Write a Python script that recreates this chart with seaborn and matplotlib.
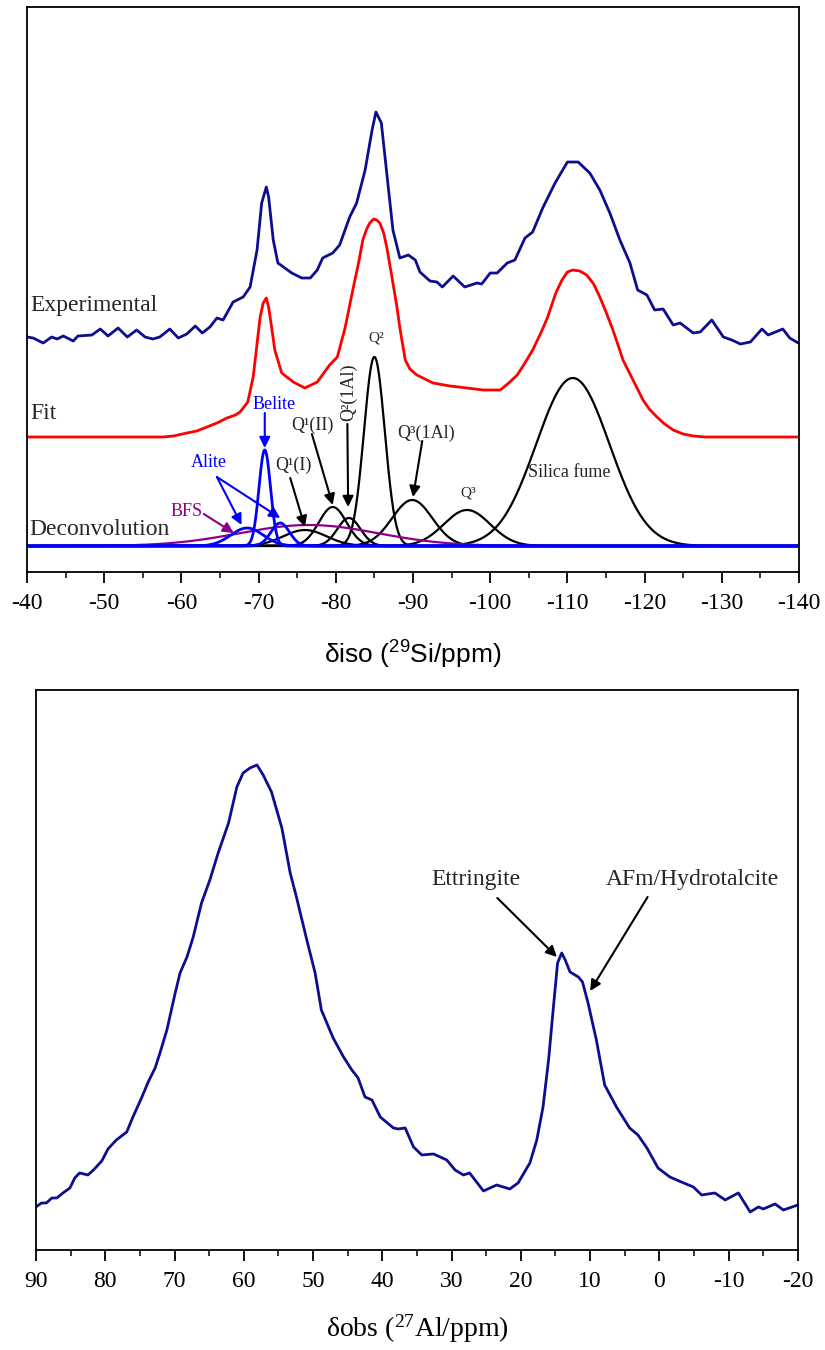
import numpy as np
import matplotlib
matplotlib.use("Agg")
import matplotlib.pyplot as plt
from matplotlib.ticker import MultipleLocator
import seaborn as sns

# ---------------- 29Si MAS NMR: experimental spectrum (offset, a.u.) ----------------
si_exp_ppm = [-40.0, -40.8, -42.1, -43.2, -43.9, -44.7, -46.0, -46.6, -48.4, -49.5,
              -50.5, -51.8, -53.0, -54.2, -55.3, -56.3, -57.2, -58.5, -59.6, -60.7,
              -61.8, -62.7, -63.7, -64.6, -65.4, -66.7, -68.0, -68.9, -69.8, -70.4,
              -71.0, -71.3, -71.9, -72.5, -73.4, -74.3, -75.6, -76.7, -77.6, -78.3,
              -79.6, -80.5, -81.8, -82.7, -83.8, -84.7, -85.2, -85.9, -86.6, -87.4,
              -88.3, -89.4, -90.3, -90.9, -92.2, -93.1, -93.8, -95.2, -96.7, -98.3,
              -98.9, -100.0, -100.9, -102.2, -103.2, -104.5, -105.5, -106.8, -108.4, -110.0,
              -111.4, -112.9, -114.2, -115.5, -116.8, -118.1, -119.1, -120.3, -121.3, -122.4,
              -123.7, -124.6, -126.3, -127.2, -128.7, -130.2, -131.3, -132.4, -133.7, -135.2,
              -136.0, -137.9, -138.8, -139.9]
si_exp_int = [234, 233, 228, 234, 232, 235, 230, 235, 236, 242,
              235, 243, 234, 241, 234, 232, 234, 242, 233, 237,
              245, 238, 244, 253, 251, 269, 274, 284, 321, 368,
              384, 374, 331, 308, 303, 298, 293, 293, 301, 313,
              318, 326, 354, 368, 401, 441, 459, 448, 398, 341,
              313, 316, 311, 299, 290, 289, 284, 295, 284, 288,
              287, 298, 298, 308, 311, 333, 339, 363, 388, 409,
              409, 398, 381, 358, 331, 308, 281, 276, 261, 262,
              246, 248, 238, 239, 251, 234, 231, 227, 229, 242,
              236, 242, 233, 228]

# ---------------- 29Si fitted spectrum (offset, a.u.) ----------------
si_fit_ppm = [-40.1, -57.6, -59.0, -60.7, -62.0, -63.3, -64.6, -65.9, -67.0, -67.6,
              -68.6, -69.3, -69.6, -69.9, -70.2, -70.6, -71.0, -71.3, -71.7, -72.1,
              -73.0, -74.5, -76.0, -77.6, -79.2, -80.2, -81.2, -82.2, -83.0, -83.5,
              -84.0, -84.4, -84.9, -85.3, -85.7, -86.2, -86.6, -87.4, -87.9, -88.3,
              -89.0, -89.6, -90.5, -92.6, -94.8, -97.0, -99.1, -101.3, -102.4, -103.5,
              -104.5, -105.5, -106.5, -107.4, -108.5, -109.3, -110.0, -110.7, -111.6, -112.5,
              -113.4, -114.2, -115.0, -115.9, -116.6, -117.2, -118.5, -119.8, -120.6, -121.6,
              -122.6, -123.7, -125.0, -126.3, -127.8, -129.4, -140.0]
si_fit_int = [134, 134, 135, 138, 140, 144, 148, 153, 156, 159,
              169, 194, 214, 234, 254, 268, 273, 264, 243, 221,
              198, 189, 183, 189, 206, 214, 243, 281, 310, 331,
              342, 348, 352, 351, 348, 338, 324, 288, 265, 243,
              211, 202, 196, 188, 185, 183, 181, 181, 188, 196,
              208, 221, 237, 253, 278, 291, 299, 301, 300, 296,
              287, 274, 259, 241, 225, 211, 191, 171, 162, 154,
              147, 141, 137, 135, 134, 134, 134]

# ---------------- Deconvolution components (Gaussian parameters) -------
comp_names = ["Q¹(I)", "Q¹(II)", "Q²(1Al)", "Q²", "Q³(1Al)", "Q³", "Silica fume",
              "BFS", "Alite a", "Belite", "Alite b"]
comp_center = [-76.0, -79.6, -81.7, -85.0, -89.9, -97.0, -110.7, -76.5, -68.5, -70.8, -72.8]
comp_height = [16, 39, 28, 189, 46, 36, 168, 21, 18, 96, 23]
comp_sigma = [2.8, 1.8, 1.5, 1.35, 2.6, 3.0, 4.75, 9.0, 2.1, 0.75, 1.2]
comp_group = ["C-A-S-H", "C-A-S-H", "C-A-S-H", "C-A-S-H", "C-A-S-H", "C-A-S-H", "C-A-S-H",
              "BFS", "clinker", "clinker", "clinker"]
group_color = {"C-A-S-H": "black", "BFS": "#8B008B", "clinker": "#0000FF"}
deconv_offset = 25

# ---------------- 27Al MAS NMR spectrum ----------------
al_ppm = [90.0, 89.2, 88.5, 87.7, 87.0, 86.1, 85.1, 84.4, 83.7, 82.5,
          81.7, 80.5, 79.6, 78.4, 76.9, 76.0, 74.7, 73.8, 72.8, 72.1,
          71.1, 69.9, 69.2, 68.2, 67.3, 66.1, 64.9, 63.7, 62.2, 61.0,
          60.1, 59.1, 58.1, 57.2, 56.0, 54.5, 53.3, 52.4, 50.9, 49.7,
          48.8, 47.1, 45.6, 44.4, 43.5, 42.5, 41.5, 40.3, 38.4, 37.7,
          36.7, 35.5, 34.3, 32.6, 30.7, 29.5, 28.3, 27.4, 25.4, 23.5,
          21.6, 20.4, 18.7, 17.7, 16.8, 16.0, 15.3, 14.7, 14.1, 13.6,
          12.9, 11.7, 11.1, 10.3, 9.1, 7.9, 6.2, 4.3, 3.1, 1.8,
          0.2, -1.5, -3.5, -4.9, -6.1, -8.0, -9.5, -11.4, -13.1, -14.3,
          -15.0, -16.7, -17.9, -20.0]
al_int = [40, 44, 44, 49, 49, 54, 59, 69, 74, 72,
          77, 86, 98, 107, 115, 130, 150, 165, 179, 194,
          217, 254, 274, 290, 310, 344, 367, 394, 424, 460,
          474, 479, 482, 472, 455, 419, 374, 350, 307, 274,
          237, 209, 190, 177, 169, 150, 147, 130, 119, 118,
          119, 100, 92, 93, 87, 77, 72, 74, 56, 62,
          58, 64, 84, 107, 140, 187, 240, 284, 294, 287,
          275, 270, 265, 244, 207, 162, 140, 119, 112, 99,
          79, 70, 64, 60, 52, 54, 47, 54, 35, 40,
          38, 43, 37, 42]

si_ticks = list(range(-40, -141, -10))
al_ticks = list(range(90, -21, -10))

# ---------------- style ----------------
sns.set_theme(style="ticks")
plt.rcParams["font.family"] = ["Liberation Serif", "DejaVu Serif"]
plt.rcParams["mathtext.default"] = "regular"
plt.rcParams["axes.linewidth"] = 1.3
plt.rcParams["axes.edgecolor"] = "black"
plt.rcParams["lines.solid_joinstyle"] = "round"
plt.rcParams["lines.solid_capstyle"] = "round"

SERIF = ["Liberation Serif", "DejaVu Serif"]
SANS = ["Liberation Sans", "DejaVu Sans"]
EXP_COLOR = "#0d0d8f"

fig = plt.figure(figsize=(8.25, 13.5), dpi=100)
fig.patch.set_facecolor("white")
ax1 = fig.add_axes([0.0327, 0.5763, 0.9358, 0.4185])
ax2 = fig.add_axes([0.0436, 0.0741, 0.9236, 0.4148])

# ---------------- top panel ----------------
grid = np.linspace(-40, -140, 2001)
comp_curves = []
for c, h, s in zip(comp_center, comp_height, comp_sigma):
    comp_curves.append(h * np.exp(-0.5 * ((grid - c) / s) ** 2))

for grp in ["C-A-S-H", "BFS", "clinker"]:
    for curve, g in zip(comp_curves, comp_group):
        if g == grp:
            sns.lineplot(x=grid, y=deconv_offset + curve, ax=ax1, color=group_color[g],
                         lw=2.0 if g == "clinker" else 1.6, sort=False)

sns.lineplot(x=si_fit_ppm, y=si_fit_int, ax=ax1, color="#FF0000", lw=2.0, sort=False)
sns.lineplot(x=si_exp_ppm, y=si_exp_int, ax=ax1, color=EXP_COLOR, lw=2.0, sort=False)

ax1.set_xlim(-40, -140)
ax1.set_ylim(-1, 564)
ax1.set_yticks([])
ax1.set_ylabel("")
ax1.set_xticks(si_ticks)
ax1.set_xticklabels([str(t) for t in si_ticks])
ax1.xaxis.set_minor_locator(MultipleLocator(5))
ax1.set_xlabel(r"δiso ($^{29}$Si/ppm)", family=SANS, fontsize=19, labelpad=18, color="black")

ax1.text(-40.4, 266, "Experimental", fontsize=17, ha="left", va="center", family=SERIF)
ax1.text(-40.4, 158, "Fit", fontsize=17, ha="left", va="center", family=SERIF)
ax1.text(-40.3, 41, "Deconvolution", fontsize=17, ha="left", va="center", family=SERIF)


def arrow(ax, start, end, color):
    ax.annotate("", xy=end, xytext=start,
                arrowprops=dict(arrowstyle="-|>", color=color, lw=1.5,
                                mutation_scale=16, shrinkA=0, shrinkB=0))


BLUE = "#0000FF"
PURPLE = "#8B008B"
ax1.text(-72.0, 167, "Belite", color=BLUE, fontsize=13, ha="center", va="center")
arrow(ax1, (-70.8, 158), (-70.8, 123), BLUE)
ax1.text(-63.6, 108, "Alite", color=BLUE, fontsize=13, ha="center", va="center")
arrow(ax1, (-64.6, 94), (-67.8, 46), BLUE)
arrow(ax1, (-64.6, 94), (-72.8, 53), BLUE)
ax1.text(-60.7, 59, "BFS", color=PURPLE, fontsize=13, ha="center", va="center")
arrow(ax1, (-62.9, 57), (-66.8, 38), PURPLE)
ax1.text(-74.5, 106, "Q¹(I)", fontsize=13, ha="center", va="center")
arrow(ax1, (-74.1, 93), (-76.0, 44), "black")
ax1.text(-77.0, 146, "Q¹(II)", fontsize=13, ha="center", va="center")
arrow(ax1, (-76.9, 137), (-79.6, 66), "black")
ax1.text(-81.7, 179, "Q²(1Al)", fontsize=13, ha="center", va="center", rotation=90)
arrow(ax1, (-81.5, 147), (-81.6, 64), "black")
ax1.text(-85.3, 233, "Q²", fontsize=11, ha="center", va="center")
ax1.text(-91.7, 138, "Q³(1Al)", fontsize=13, ha="center", va="center")
arrow(ax1, (-91.2, 130), (-90.0, 74), "black")
ax1.text(-97.1, 78, "Q³", fontsize=11, ha="center", va="center")
ax1.text(-110.3, 98, "Silica fume", fontsize=13, ha="center", va="center")

# ---------------- bottom panel ----------------
sns.lineplot(x=al_ppm, y=al_int, ax=ax2, color=EXP_COLOR, lw=2.0, sort=False)
ax2.set_xlim(90, -20)
ax2.set_ylim(-3, 557)
ax2.set_yticks([])
ax2.set_ylabel("")
ax2.set_xticks(al_ticks)
ax2.set_xticklabels([str(t) for t in al_ticks])
ax2.xaxis.set_minor_locator(MultipleLocator(5))
ax2.set_xlabel(r"δobs ($^{27}$Al/ppm)", family=SERIF, fontsize=20, labelpad=15, color="black")

ax2.text(26.5, 367, "Ettringite", fontsize=17, ha="center", va="center")
arrow(ax2, (23.4, 349), (14.8, 290), "black")
ax2.text(-4.7, 367, "AFm/Hydrotalcite", fontsize=17, ha="center", va="center")
arrow(ax2, (1.7, 350), (10.0, 256), "black")

for ax in (ax1, ax2):
    for sp in ax.spines.values():
        sp.set_visible(True)
        sp.set_color("black")
        sp.set_linewidth(1.3)
    ax.set_facecolor("white")
    ax.tick_params(axis="x", which="major", direction="out", length=8, width=1.3,
                   labelsize=17, pad=7, colors="black", bottom=True, top=False)
    ax.tick_params(axis="x", which="minor", direction="out", length=4.5, width=1.3,
                   bottom=True, top=False)
    ax.tick_params(axis="y", which="both", left=False, right=False)
    for lbl in ax.get_xticklabels():
        lbl.set_family(SERIF)

fig.savefig("out.png", dpi=100, facecolor="white")
